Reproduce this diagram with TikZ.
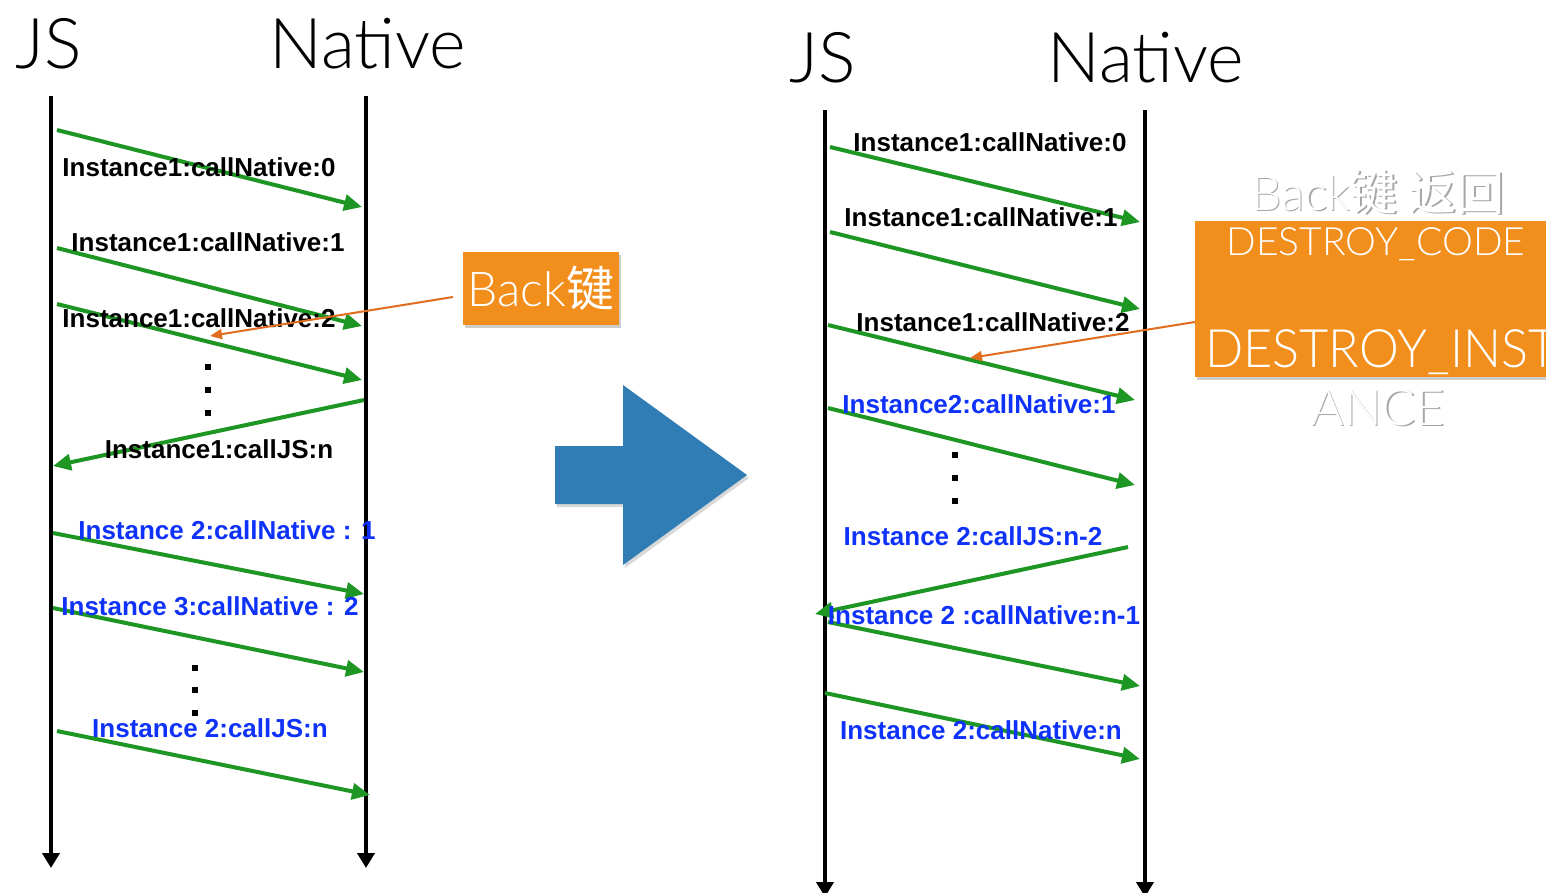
\documentclass[tikz,border=0pt]{standalone}
\usepackage{fontspec}
\setmainfont{Liberation Sans}
\newfontfamily\cjk{Noto Sans CJK SC}
\newfontfamily\lightsans{Lato Light}
\newfontfamily\narrowlight[FakeStretch=0.95]{Lato Light}
\usetikzlibrary{arrows.meta,shadows}
\definecolor{msggreen}{RGB}{30,150,35}
\definecolor{msgblue}{RGB}{15,50,250}
\definecolor{boxorange}{RGB}{242,143,28}
\definecolor{lineorange}{RGB}{225,110,30}
\definecolor{bigblue}{RGB}{47,125,180}
\tikzset{
  lifeline/.style={line width=4.5pt, -{Triangle[length=15pt,width=17pt]}},
  msg/.style={draw=msggreen, line width=4pt, -{Triangle[length=18pt,width=16pt]}},
  backarrow/.style={draw=lineorange, line width=2pt, -{Triangle[length=12pt,width=10pt]}},
  title/.style={font=\lightsans\fontsize{70}{72}\selectfont, anchor=base, inner sep=0pt},
  lblk/.style={font=\fontsize{26}{28}\selectfont\bfseries, text=black, anchor=base, inner sep=0pt},
  lblu/.style={font=\fontsize{26}{28}\selectfont\bfseries, text=msgblue, anchor=base, inner sep=0pt},
  dotbox/.style={fill=black, minimum size=6pt, inner sep=0pt},
  orangebox/.style={fill=boxorange, inner sep=0pt, drop shadow={shadow xshift=2pt, shadow yshift=-3pt, opacity=0.4}},
  ghost/.style={text=black!35, anchor=base, inner sep=0pt},
  ghosttop/.style={text=white, anchor=base, inner sep=0pt},
}
\begin{document}
\begin{tikzpicture}[x=1pt,y=-1pt]
\useasboundingbox (0,0) rectangle (1546,892);
\clip (0,0) rectangle (1546,892);
\fill[white] (0,0) rectangle (1546,892);

% ---------- left diagram ----------
\node[title] (jsL) at (49,68) {JS};
\node[title] (natL) at (368,68) {Native};
\coordinate (jsLt) at (51,96);  \coordinate (jsLb) at (51,868);
\coordinate (natLt) at (366,96); \coordinate (natLb) at (366,868);
\draw[lifeline] (jsLt) -- (jsLb);
\draw[lifeline] (natLt) -- (natLb);

\coordinate (a1s) at (57,130);  \coordinate (a1e) at (362,207);
\coordinate (a2s) at (57,248);  \coordinate (a2e) at (362,326);
\coordinate (a3s) at (57,304);  \coordinate (a3e) at (362,380);
\coordinate (a4s) at (364,400); \coordinate (a4e) at (53,466);
\coordinate (a5s) at (53,533);  \coordinate (a5e) at (364,594);
\coordinate (a6s) at (53,608);  \coordinate (a6e) at (364,672);
\coordinate (a7s) at (57,731);  \coordinate (a7e) at (370,795);
\draw[msg] (a1s) -- (a1e);
\draw[msg] (a2s) -- (a2e);
\draw[msg] (a3s) -- (a3e);
\draw[msg] (a4s) -- (a4e);
\draw[msg] (a5s) -- (a5e);
\draw[msg] (a6s) -- (a6e);
\draw[msg] (a7s) -- (a7e);

\node[lblk] (l0) at (199,176) {Instance1:callNative:0};
\node[lblk] (l1) at (208,251) {Instance1:callNative:1};
\node[lblk] (l2) at (199,327) {Instance1:callNative:2};
\node[lblk] (l3) at (219,458) {Instance1:callJS:n};
\node[lblu] (l4) at (227,539) {Instance 2:callNative : 1};
\node[lblu] (l5) at (210,615) {Instance 3:callNative : 2};
\node[lblu] (l6) at (210,737) {Instance 2:callJS:n};

\node[dotbox] (d1) at (208,367) {};
\node[dotbox] (d2) at (208,390) {};
\node[dotbox] (d3) at (208,413) {};
\node[dotbox] (d4) at (195,668) {};
\node[dotbox] (d5) at (195,690) {};
\node[dotbox] (d6) at (195,713) {};

\node[orangebox, minimum width=156pt, minimum height=73pt] (backbox) at (541,288.5)
  {\fontsize{48}{50}\selectfont\color{white}\lightsans Back\cjk 键};
\coordinate (bk1s) at (453,297); \coordinate (bk1e) at (210,336);
\draw[backarrow] (bk1s) -- (bk1e);

% ---------- big arrow ----------
\fill[bigblue, drop shadow={shadow xshift=2pt, shadow yshift=-3pt, opacity=0.3}]
  (555,446) -- (623,446) -- (623,385) -- (747,475) -- (623,565) -- (623,504) -- (555,504) -- cycle;

% ---------- right diagram ----------
\node[title] (jsR) at (823,82) {JS};
\node[title] (natR) at (1146,82) {Native};
\coordinate (jsRt) at (825,110);  \coordinate (jsRb) at (825,897);
\coordinate (natRt) at (1145,110); \coordinate (natRb) at (1145,897);
\draw[lifeline] (jsRt) -- (jsRb);
\draw[lifeline] (natRt) -- (natRb);

\coordinate (b1s) at (830,147);  \coordinate (b1e) at (1140,222);
\coordinate (b2s) at (830,232);  \coordinate (b2e) at (1140,309);
\coordinate (b3s) at (828,325);  \coordinate (b3e) at (1135,400);
\coordinate (b4s) at (828,408);  \coordinate (b4e) at (1135,485);
\coordinate (b5s) at (1128,547); \coordinate (b5e) at (815,614);
\coordinate (b6s) at (828,622);  \coordinate (b6e) at (1140,686);
\coordinate (b7s) at (825,693);  \coordinate (b7e) at (1140,759);
\draw[msg] (b1s) -- (b1e);
\draw[msg] (b2s) -- (b2e);
\draw[msg] (b3s) -- (b3e);
\draw[msg] (b4s) -- (b4e);
\draw[msg] (b5s) -- (b5e);
\draw[msg] (b6s) -- (b6e);
\draw[msg] (b7s) -- (b7e);

\node[lblk] (r0) at (990,151) {Instance1:callNative:0};
\node[lblk] (r1) at (981,226) {Instance1:callNative:1};
\node[lblk] (r2) at (993,331) {Instance1:callNative:2};
\node[lblu] (r3) at (979,413) {Instance2:callNative:1};
\node[lblu] (r4) at (973,545) {Instance 2:callJS:n-2};
\node[lblu] (r5) at (984,624) {Instance 2 :callNative:n-1};
\node[lblu] (r6) at (981,739) {Instance 2:callNative:n};

\node[dotbox] (e1) at (955,455) {};
\node[dotbox] (e2) at (955,478) {};
\node[dotbox] (e3) at (955,501) {};

\node[orangebox, minimum width=380pt, minimum height=156pt, anchor=north west] (destroybox) at (1195,221) {};
\node[anchor=base, inner sep=0pt, text=white, font=\lightsans\fontsize{39}{41}\selectfont] (dcode) at (1376,255) {DESTROY\_CODE};
\node[anchor=base west, inner sep=0pt, text=white, font=\narrowlight\fontsize{53}{55}\selectfont] (dinst) at (1205,367) {DESTROY\_INST};
\coordinate (bk2s) at (1195,322); \coordinate (bk2e) at (970,358);
\draw[backarrow] (bk2s) -- (bk2e);

\node[ghost, font=\fontsize{48}{50}\selectfont] (backretsh) at (1379.5,211.5) {\lightsans Back\cjk 键 返回};
\node[ghosttop, font=\fontsize{48}{50}\selectfont] (backret) at (1378,210) {\lightsans Back\cjk 键 返回};
\node[ghost, font=\lightsans\fontsize{50}{52}\selectfont] (ancesh) at (1379.5,426.5) {ANCE};
\node[ghosttop, font=\lightsans\fontsize{50}{52}\selectfont] (ance) at (1378,425) {ANCE};
\end{tikzpicture}
\end{document}
